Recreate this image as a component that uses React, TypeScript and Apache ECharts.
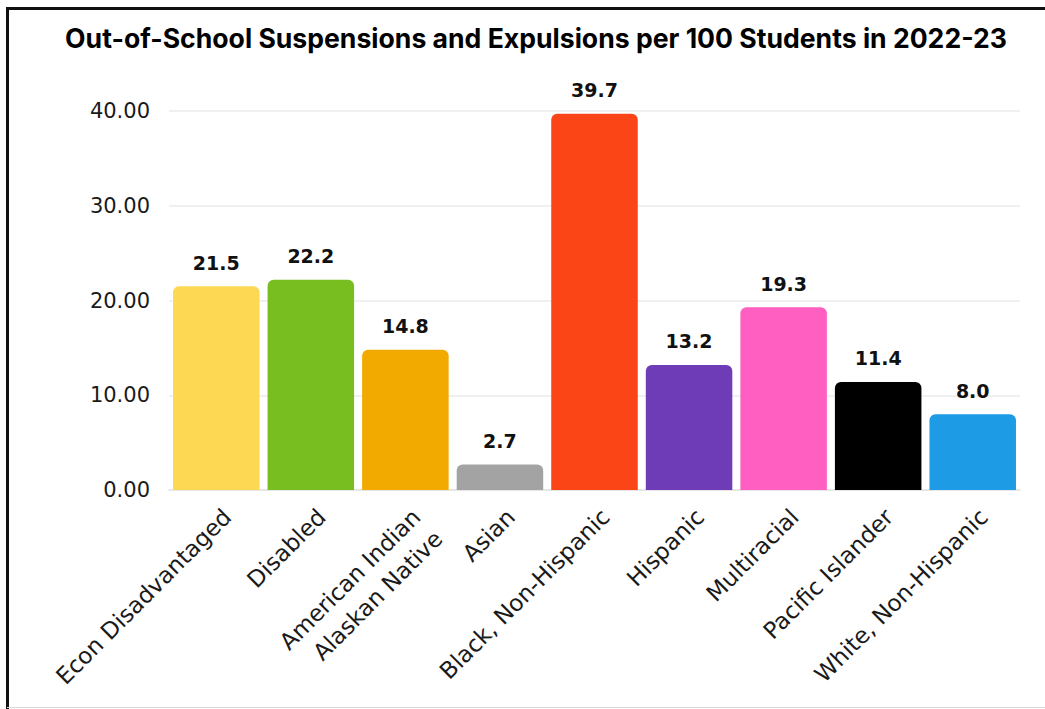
import React, { useEffect, useRef } from "react";
import * as echarts from "echarts";

const categories = [
  "Econ Disadvantaged",
  "Disabled",
  "American Indian\nAlaskan Native",
  "Asian",
  "Black, Non-Hispanic",
  "Hispanic",
  "Multiracial",
  "Pacific Islander",
  "White, Non-Hispanic",
];
const values = [21.5, 22.2, 14.8, 2.7, 39.7, 13.2, 19.3, 11.4, 8.0];
const colors = [
  "#FDD853",
  "#78BE20",
  "#F2A900",
  "#A3A3A3",
  "#FC4516",
  "#6F3CB8",
  "#FF5FC0",
  "#000000",
  "#1E9BE5",
];
const yTicks = [0, 10, 20, 30, 40];
const title = "Out-of-School Suspensions and Expulsions per 100 Students in 2022-23";

const FONT = "DejaVu Sans";

export default function App() {
  const ref = useRef<HTMLDivElement>(null);
  useEffect(() => {
    if (!ref.current) return;
    const chart = echarts.init(ref.current, null, { renderer: "svg" });
    chart.setOption({
      animation: false,
      backgroundColor: "#ffffff",
      title: {
        text: title,
        left: 531,
        textAlign: "center",
        top: 19,
        textStyle: {
          fontFamily: "Inter",
          fontWeight: "bold",
          fontSize: 26.6,
          color: "#000",
        },
      },
      graphic: [
        {
          type: "rect",
          shape: { x: 7.5, y: 8.5, width: 1100, height: 760 },
          style: { fill: "none", stroke: "#111", lineWidth: 3 },
          silent: true,
        },
        {
          type: "line",
          shape: { x1: 7, y1: 707.5, x2: 1045, y2: 707.5 },
          style: { stroke: "#d8d8d8", lineWidth: 1 },
          silent: true,
        },
      ],
      grid: { left: 169, right: 25, top: 111, bottom: 219 },
      xAxis: {
        type: "category",
        data: categories,
        axisTick: { show: false },
        axisLine: { show: true, lineStyle: { color: "#e3e3e3", width: 1.5 } },
        axisLabel: {
          rotate: 45,
          interval: 0,
          margin: 12,
          align: "right",
          verticalAlign: "top",
          fontFamily: FONT,
          fontSize: 23,
          color: "#1a1a1a",
          lineHeight: 31,
        },
      },
      yAxis: {
        type: "value",
        min: 0,
        max: 40,
        interval: 10,
        axisLine: { show: false },
        axisTick: { show: false },
        splitLine: { lineStyle: { color: "#ebebeb", width: 1.5 } },
        axisLabel: {
          margin: 19,
          fontFamily: FONT,
          fontSize: 21,
          color: "#1a1a1a",
          formatter: (v: number) => (yTicks.includes(v) ? v.toFixed(2) : ""),
        },
      },
      series: [
        {
          type: "bar",
          data: values.map((v, i) => ({ value: v, itemStyle: { color: colors[i] } })),
          barCategoryGap: "8.5%",
          itemStyle: { borderRadius: [6, 6, 0, 0] },
          label: {
            show: true,
            position: "top",
            distance: 14,
            fontFamily: FONT,
            fontWeight: "bold",
            fontSize: 19,
            color: "#111",
            formatter: (p: any) => Number(p.value).toFixed(1),
          },
        },
      ],
    });
    return () => chart.dispose();
  }, []);
  return (
    <div
      ref={ref}
      style={{ position: "fixed", left: 0, top: 0, width: 1045, height: 709 }}
    />
  );
}
